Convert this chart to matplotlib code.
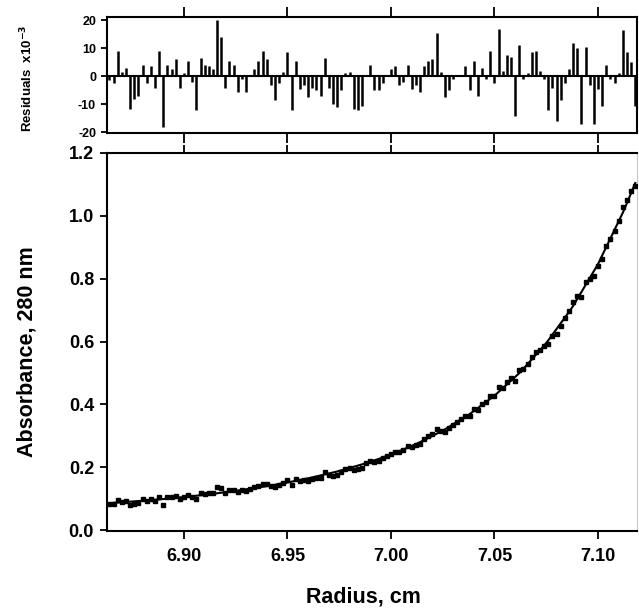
import numpy as np
import matplotlib
matplotlib.use('Agg')
import matplotlib.pyplot as plt

# radius grid (cm)
RADIUS = [
    6.864, 6.866, 6.868, 6.870, 6.872, 6.874, 6.876, 6.878, 6.880, 6.882,
    6.884, 6.886, 6.888, 6.890, 6.892, 6.894, 6.896, 6.898, 6.900, 6.902,
    6.904, 6.906, 6.908, 6.910, 6.912, 6.914, 6.916, 6.918, 6.920, 6.922,
    6.924, 6.926, 6.928, 6.930, 6.932, 6.934, 6.936, 6.938, 6.940, 6.942,
    6.944, 6.946, 6.948, 6.950, 6.952, 6.954, 6.956, 6.958, 6.960, 6.962,
    6.964, 6.966, 6.968, 6.970, 6.972, 6.974, 6.976, 6.978, 6.980, 6.982,
    6.984, 6.986, 6.988, 6.990, 6.992, 6.994, 6.996, 6.998, 7.000, 7.002,
    7.004, 7.006, 7.008, 7.010, 7.012, 7.014, 7.016, 7.018, 7.020, 7.022,
    7.024, 7.026, 7.028, 7.030, 7.032, 7.034, 7.036, 7.038, 7.040, 7.042,
    7.044, 7.046, 7.048, 7.050, 7.052, 7.054, 7.056, 7.058, 7.060, 7.062,
    7.064, 7.066, 7.068, 7.070, 7.072, 7.074, 7.076, 7.078, 7.080, 7.082,
    7.084, 7.086, 7.088, 7.090, 7.092, 7.094, 7.096, 7.098, 7.100, 7.102,
    7.104, 7.106, 7.108, 7.110, 7.112, 7.114, 7.116, 7.118,
]

# fitted absorbance at 280 nm
FIT_ABS = [
    0.0857, 0.0866, 0.0875, 0.0884, 0.0893, 0.0902, 0.0912, 0.0923, 0.0933, 0.0944,
    0.0954, 0.0965, 0.0976, 0.0988, 0.1001, 0.1013, 0.1025, 0.1038, 0.1050, 0.1064,
    0.1079, 0.1093, 0.1108, 0.1122, 0.1136, 0.1153, 0.1170, 0.1187, 0.1204, 0.1221,
    0.1238, 0.1256, 0.1276, 0.1295, 0.1315, 0.1335, 0.1354, 0.1375, 0.1398, 0.1421,
    0.1444, 0.1467, 0.1490, 0.1513, 0.1540, 0.1567, 0.1594, 0.1621, 0.1648, 0.1675,
    0.1706, 0.1738, 0.1769, 0.1801, 0.1833, 0.1864, 0.1899, 0.1937, 0.1975, 0.2013,
    0.2051, 0.2089, 0.2128, 0.2173, 0.2218, 0.2262, 0.2307, 0.2352, 0.2397, 0.2453,
    0.2509, 0.2565, 0.2621, 0.2677, 0.2733, 0.2797, 0.2863, 0.2930, 0.2996, 0.3063,
    0.3130, 0.3203, 0.3284, 0.3364, 0.3445, 0.3525, 0.3606, 0.3690, 0.3788, 0.3885,
    0.3983, 0.4081, 0.4178, 0.4276, 0.4396, 0.4515, 0.4635, 0.4755, 0.4874, 0.4994,
    0.5135, 0.5283, 0.5431, 0.5579, 0.5726, 0.5874, 0.6038, 0.6219, 0.6400, 0.6580,
    0.6761, 0.6942, 0.7132, 0.7354, 0.7576, 0.7797, 0.8019, 0.8241, 0.8463, 0.8736,
    0.9009, 0.9282, 0.9556, 0.9829, 1.0102, 1.0408, 1.0725, 1.1043,
]

# residuals, x10^-3
RESIDUALS = [
    -1.5, -2.5, 9, 1.5, 3, -11.5, -8, -7, 4, -2.5,
    3.5, -4, 9, -18, 4, 2.5, 6, -4, 1, 5.5,
    -2, -12, 6.5, 4, 3.5, 2.5, 20, 14, -4, 5.5,
    4, -5.5, -1, -5.5, 0.5, 2.5, 5.5, 9, 6, -3,
    -8.5, -2.5, 1.5, 8.5, -12, 5.5, -4.5, -3, -7.5, -4,
    -5, -7, 6.5, -4, -10, -11, -5, 1, 1.5, -11.5,
    -12, -10.5, 0.5, 4, -5, -5, -2.5, 0.5, 2.5, 3.5,
    -3, -2, 4, -4.5, -3, -5.5, 3.5, 5.5, 6, 15.5,
    1.5, -7.5, -5, -1, 0.5, 0.5, 3.5, -5, 5.5, -7,
    3, -1, 9, -2.5, 17, 2, 7.5, 7, -14, 11,
    -1, 1, 8.5, 9, 2, -1, -12, -4, -16, -8.5,
    -2.5, 2.5, 12, 10, -17, 10.5, -3, -17, -4.5, -10.5,
    4, -1, -2.5, 1, 16.5, 8.5, 5, -10.5,
]

RADIUS_TICKS = [6.90, 6.95, 7.00, 7.05, 7.10]
ABS_TICKS = [0.0, 0.2, 0.4, 0.6, 0.8, 1.0, 1.2]
RESID_TICKS = [-20, -10, 0, 10, 20]

radius = np.array(RADIUS)
fit = np.array(FIT_ABS)
resid = np.array(RESIDUALS)
absorbance = fit + resid / 1000.0

plt.rcParams['font.family'] = ['Liberation Sans', 'DejaVu Sans']

fig = plt.figure(figsize=(6.39, 6.10), dpi=100)
fig.set_facecolor('white')

ax_r = fig.add_axes([0.1667, 0.7815, 0.8297, 0.1901])
ax = fig.add_axes([0.1667, 0.1295, 0.8297, 0.6197])

xlim = (6.8626, 7.1187)

# --- residuals panel ---
ax_r.vlines(radius, 0, resid, color='black', lw=1.8)
ax_r.axhline(0, color='black', lw=1.5)
ax_r.set_xlim(*xlim)
ax_r.set_ylim(-20.3, 21)
ax_r.set_xticks(RADIUS_TICKS)
ax_r.set_yticks(RESID_TICKS)
ax_r.set_yticklabels([str(t) for t in RESID_TICKS], fontsize=9, fontweight='bold')
ax_r.tick_params(axis='x', top=True, bottom=True, direction='out', length=7, width=1.3,
                 labelbottom=False)
ax_r.tick_params(axis='y', left=True, right=False, direction='out', length=4.5, width=1.3, pad=3)
for s in ax_r.spines.values():
    s.set_linewidth(1.5)

fig.text(27 / 639, 1 - 78 / 610, r'Residuals  x10$^{\mathbf{-3}}$', rotation=90,
         ha='center', va='center', fontsize=9.5, fontweight='bold')

# --- main panel ---
ax.plot(radius, fit, color='black', lw=1.5, zorder=2)
ax.plot(radius, absorbance, 's', ms=3, color='black', zorder=3)
ax.set_xlim(*xlim)
ax.set_ylim(-0.003, 1.2)
ax.set_xticks(RADIUS_TICKS)
ax.set_xticklabels([f'{t:.2f}' for t in RADIUS_TICKS], fontsize=13, fontweight='bold')
ax.set_yticks(ABS_TICKS)
ax.set_yticklabels([f'{t:.1f}' for t in ABS_TICKS], fontsize=13, fontweight='bold')
ax.tick_params(axis='x', top=True, bottom=True, direction='out', length=6, width=1.3, pad=6)
ax.tick_params(axis='y', left=True, right=False, direction='out', length=5, width=1.3, pad=4)
for s in ['left', 'bottom', 'top']:
    ax.spines[s].set_linewidth(1.5)
ax.spines['right'].set_color('#c8c8c8')
ax.spines['right'].set_linewidth(0.8)

fig.text(363.5 / 639, 1 - 597 / 610, 'Radius, cm', ha='center', va='center',
         fontsize=15.5, fontweight='bold')
fig.text(27.5 / 639, 1 - 352 / 610, 'Absorbance, 280 nm', rotation=90, ha='center',
         va='center', fontsize=15.5, fontweight='bold')

fig.savefig('out.png', dpi=100)
